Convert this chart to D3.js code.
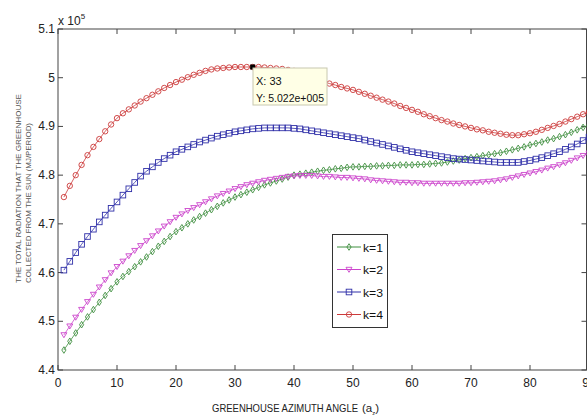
<!DOCTYPE html>
<html lang="en">
<head>
<meta charset="UTF-8">
<title>Greenhouse radiation vs azimuth</title>
<script src="https://cdn.jsdelivr.net/npm/d3@7"></script>
<style>
  body { margin: 0; background: #fff; }
  text { font-family: "Liberation Sans", Arial, sans-serif; }
</style>
</head>
<body>
<svg id="chart" width="587" height="416"></svg>
<script>
// azimuth angle 1..90, radiation in units of 1e5 MJ/period
const angles = d3.range(1, 91);

const k1 = [4.441,4.459,4.476,4.493,4.509,4.524,4.539,4.553,4.567,4.581,
  4.592,4.602,4.612,4.622,4.632,4.643,4.654,4.664,4.674,4.684,
  4.692,4.700,4.708,4.715,4.722,4.729,4.736,4.743,4.749,4.755,
  4.760,4.765,4.770,4.775,4.780,4.784,4.788,4.792,4.796,4.800,
  4.802,4.804,4.806,4.808,4.810,4.811,4.813,4.814,4.816,4.817,
  4.817,4.818,4.818,4.819,4.819,4.820,4.820,4.821,4.821,4.821,
  4.822,4.822,4.823,4.824,4.825,4.827,4.829,4.831,4.834,4.836,
  4.838,4.840,4.842,4.844,4.846,4.849,4.852,4.855,4.858,4.862,
  4.865,4.868,4.872,4.875,4.879,4.883,4.888,4.893,4.898,4.903];

const k2 = [4.472,4.490,4.508,4.524,4.540,4.555,4.570,4.585,4.599,4.612,
  4.623,4.634,4.645,4.655,4.665,4.675,4.685,4.695,4.704,4.713,
  4.720,4.727,4.733,4.739,4.745,4.751,4.757,4.762,4.767,4.772,
  4.776,4.780,4.783,4.786,4.789,4.791,4.793,4.795,4.797,4.798,
  4.799,4.799,4.799,4.798,4.797,4.797,4.796,4.795,4.795,4.794,
  4.793,4.792,4.790,4.789,4.788,4.787,4.786,4.785,4.785,4.784,
  4.784,4.783,4.783,4.783,4.783,4.783,4.783,4.783,4.784,4.784,
  4.785,4.786,4.787,4.788,4.790,4.792,4.795,4.798,4.801,4.804,
  4.807,4.810,4.814,4.817,4.821,4.825,4.830,4.835,4.840,4.845];

const k3 = [4.605,4.623,4.641,4.658,4.674,4.689,4.704,4.718,4.732,4.745,
  4.759,4.772,4.785,4.798,4.808,4.817,4.826,4.834,4.841,4.848,
  4.853,4.858,4.863,4.868,4.872,4.876,4.880,4.883,4.886,4.889,
  4.891,4.893,4.895,4.896,4.897,4.897,4.897,4.897,4.897,4.896,
  4.895,4.893,4.891,4.889,4.887,4.885,4.883,4.881,4.879,4.877,
  4.875,4.872,4.869,4.866,4.863,4.860,4.857,4.854,4.851,4.848,
  4.846,4.844,4.842,4.840,4.838,4.836,4.834,4.833,4.832,4.831,
  4.830,4.829,4.828,4.827,4.826,4.826,4.826,4.826,4.828,4.830,
  4.833,4.836,4.840,4.844,4.848,4.853,4.858,4.864,4.871,4.878];

const k4 = [4.755,4.778,4.800,4.821,4.841,4.858,4.874,4.890,4.904,4.917,
  4.927,4.935,4.943,4.951,4.958,4.965,4.972,4.979,4.985,4.991,
  4.996,5.001,5.006,5.010,5.014,5.017,5.019,5.020,5.021,5.022,
  5.022,5.022,5.022,5.022,5.021,5.020,5.019,5.018,5.016,5.014,
  5.010,5.006,5.001,4.996,4.992,4.988,4.985,4.981,4.978,4.975,
  4.971,4.967,4.963,4.959,4.955,4.951,4.947,4.942,4.938,4.934,
  4.930,4.925,4.921,4.917,4.913,4.910,4.906,4.903,4.900,4.897,
  4.894,4.892,4.889,4.887,4.885,4.883,4.882,4.882,4.884,4.886,
  4.889,4.893,4.897,4.901,4.905,4.910,4.915,4.920,4.925,4.930];

const seriesNames = ["k=1", "k=2", "k=3", "k=4"];
const seriesValues = [k1, k2, k3, k4];
const seriesColors = ["#3f8f3f", "#cc44cc", "#2f2fa8", "#cc3a3a"];
const seriesMarkers = ["diamond", "tri", "square", "circle"];

const xTicks = [0, 10, 20, 30, 40, 50, 60, 70, 80, 90];
const yTicks = [4.4, 4.5, 4.6, 4.7, 4.8, 4.9, 5.0, 5.1];
const yTickLabels = ["4.4", "4.5", "4.6", "4.7", "4.8", "4.9", "5", "5.1"];

const tipAngle = 33, tipValue = 5.022;

const svg = d3.select("#chart");
const margin = { top: 29, right: 0, bottom: 46, left: 58 };
const W = 587, H = 416;

const x = d3.scaleLinear().domain([0, 90]).range([margin.left, 589]);
const y = d3.scaleLinear().domain([4.4, 5.1]).range([H - margin.bottom, margin.top]);
const axisColor = "#444";

// frame
svg.append("rect")
  .attr("x", margin.left).attr("y", margin.top)
  .attr("width", 586.5 - margin.left).attr("height", y(4.4) - margin.top)
  .attr("fill", "none").attr("stroke", axisColor).attr("stroke-width", 1);

// ticks (inward, MATLAB style)
const tl = 5;
const axG = svg.append("g");
xTicks.forEach(t => {
  axG.append("line").attr("x1", x(t)).attr("x2", x(t))
    .attr("y1", y(4.4)).attr("y2", y(4.4) - tl).attr("stroke", axisColor);
  axG.append("line").attr("x1", x(t)).attr("x2", x(t))
    .attr("y1", y(5.1)).attr("y2", y(5.1) + tl).attr("stroke", axisColor);
  axG.append("text").attr("x", x(t)).attr("y", 387)
    .attr("text-anchor", "middle").attr("font-size", 12).attr("fill", "#222")
    .text(t);
});
yTicks.forEach((t, i) => {
  axG.append("line").attr("x1", margin.left).attr("x2", margin.left + tl)
    .attr("y1", y(t)).attr("y2", y(t)).attr("stroke", axisColor);
  axG.append("line").attr("x1", 586.5).attr("x2", 586.5 - tl)
    .attr("y1", y(t)).attr("y2", y(t)).attr("stroke", axisColor);
  axG.append("text").attr("x", 55).attr("y", y(t) + 4)
    .attr("text-anchor", "end").attr("font-size", 12).attr("fill", "#222")
    .text(yTickLabels[i]);
});

// exponent label
const ex = svg.append("text").attr("x", 58).attr("y", 25).attr("font-size", 12).attr("fill", "#222");
ex.append("tspan").text("x 10");
ex.append("tspan").attr("dy", -6).attr("font-size", 8).text("5");

// marker shapes
function marker(g, type, cx, cy, color) {
  if (type === "circle") {
    g.append("circle").attr("cx", cx).attr("cy", cy).attr("r", 2.7)
      .attr("fill", "none").attr("stroke", color).attr("stroke-width", 0.9);
  } else if (type === "square") {
    g.append("rect").attr("x", cx - 2.8).attr("y", cy - 2.8).attr("width", 5.6).attr("height", 5.6)
      .attr("fill", "none").attr("stroke", color).attr("stroke-width", 0.9);
  } else if (type === "diamond") {
    g.append("path").attr("d", `M${cx},${cy - 3.3}L${cx + 2.1},${cy}L${cx},${cy + 3.3}L${cx - 2.1},${cy}Z`)
      .attr("fill", "none").attr("stroke", color).attr("stroke-width", 0.9);
  } else {
    g.append("path").attr("d", `M${cx - 3},${cy - 2.2}L${cx + 3},${cy - 2.2}L${cx},${cy + 2.8}Z`)
      .attr("fill", "none").attr("stroke", color).attr("stroke-width", 0.9);
  }
}

const line = d3.line().x((d, i) => x(angles[i])).y(d => y(d));

seriesValues.forEach((vals, s) => {
  const g = svg.append("g");
  g.append("path").datum(vals).attr("d", line)
    .attr("fill", "none").attr("stroke", seriesColors[s]).attr("stroke-width", 0.8);
  vals.forEach((v, i) => marker(g, seriesMarkers[s], x(angles[i]), y(v), seriesColors[s]));
});

// data tip
svg.append("rect").attr("x", x(tipAngle) - 2.5).attr("y", y(tipValue) - 2.5)
  .attr("width", 5).attr("height", 5).attr("fill", "#000");
const tip = svg.append("g");
tip.append("rect").attr("x", 253).attr("y", 68).attr("width", 74).attr("height", 37)
  .attr("fill", "#ffffe6").attr("stroke", "#c8c8b0").attr("stroke-width", 1);
tip.append("text").attr("x", 256).attr("y", 85).attr("font-size", 11).attr("fill", "#111")
  .text("X: " + tipAngle);
tip.append("text").attr("x", 256).attr("y", 102).attr("font-size", 11).attr("fill", "#111")
  .attr("textLength", 68).attr("lengthAdjust", "spacingAndGlyphs").text("Y: 5.022e+005");

// legend
const lg = svg.append("g");
lg.append("rect").attr("x", 332.5).attr("y", 234.5).attr("width", 55).attr("height", 93)
  .attr("fill", "#fff").attr("stroke", "#333").attr("stroke-width", 1);
seriesNames.forEach((n, i) => {
  const ly = 247 + i * 22.5;
  lg.append("line").attr("x1", 337).attr("x2", 361).attr("y1", ly).attr("y2", ly)
    .attr("stroke", seriesColors[i]).attr("stroke-width", 1);
  marker(lg, seriesMarkers[i], 349, ly, seriesColors[i]);
  lg.append("text").attr("x", 363).attr("y", ly + 4.5).attr("font-size", 11.5).attr("fill", "#111")
    .attr("textLength", 20).attr("lengthAdjust", "spacingAndGlyphs").text(n);
});

// axis titles
svg.append("text").attr("x", 212).attr("y", 412).attr("font-size", 11.5).attr("fill", "#222")
  .attr("textLength", 146).attr("lengthAdjust", "spacingAndGlyphs")
  .text("GREENHOUSE AZIMUTH ANGLE");
const xs = svg.append("text").attr("x", 362).attr("y", 412).attr("font-size", 11.5).attr("fill", "#222");
xs.append("tspan").text("(a");
xs.append("tspan").attr("dy", 3).attr("font-size", 6).text("z");
xs.append("tspan").attr("dy", -3).text(")");

svg.append("text").attr("transform", "translate(21,283) rotate(-90)")
  .attr("font-size", 8).attr("fill", "#555")
  .attr("textLength", 189).attr("lengthAdjust", "spacingAndGlyphs")
  .text("THE TOTAL RADIATION THAT THE GREENHOUSE");
svg.append("text").attr("transform", "translate(31,283) rotate(-90)")
  .attr("font-size", 8).attr("fill", "#555")
  .attr("textLength", 160).attr("lengthAdjust", "spacingAndGlyphs")
  .text("COLLECTED FROM THE SUN  (MJ/PERIOD)");
</script>
</body>
</html>
